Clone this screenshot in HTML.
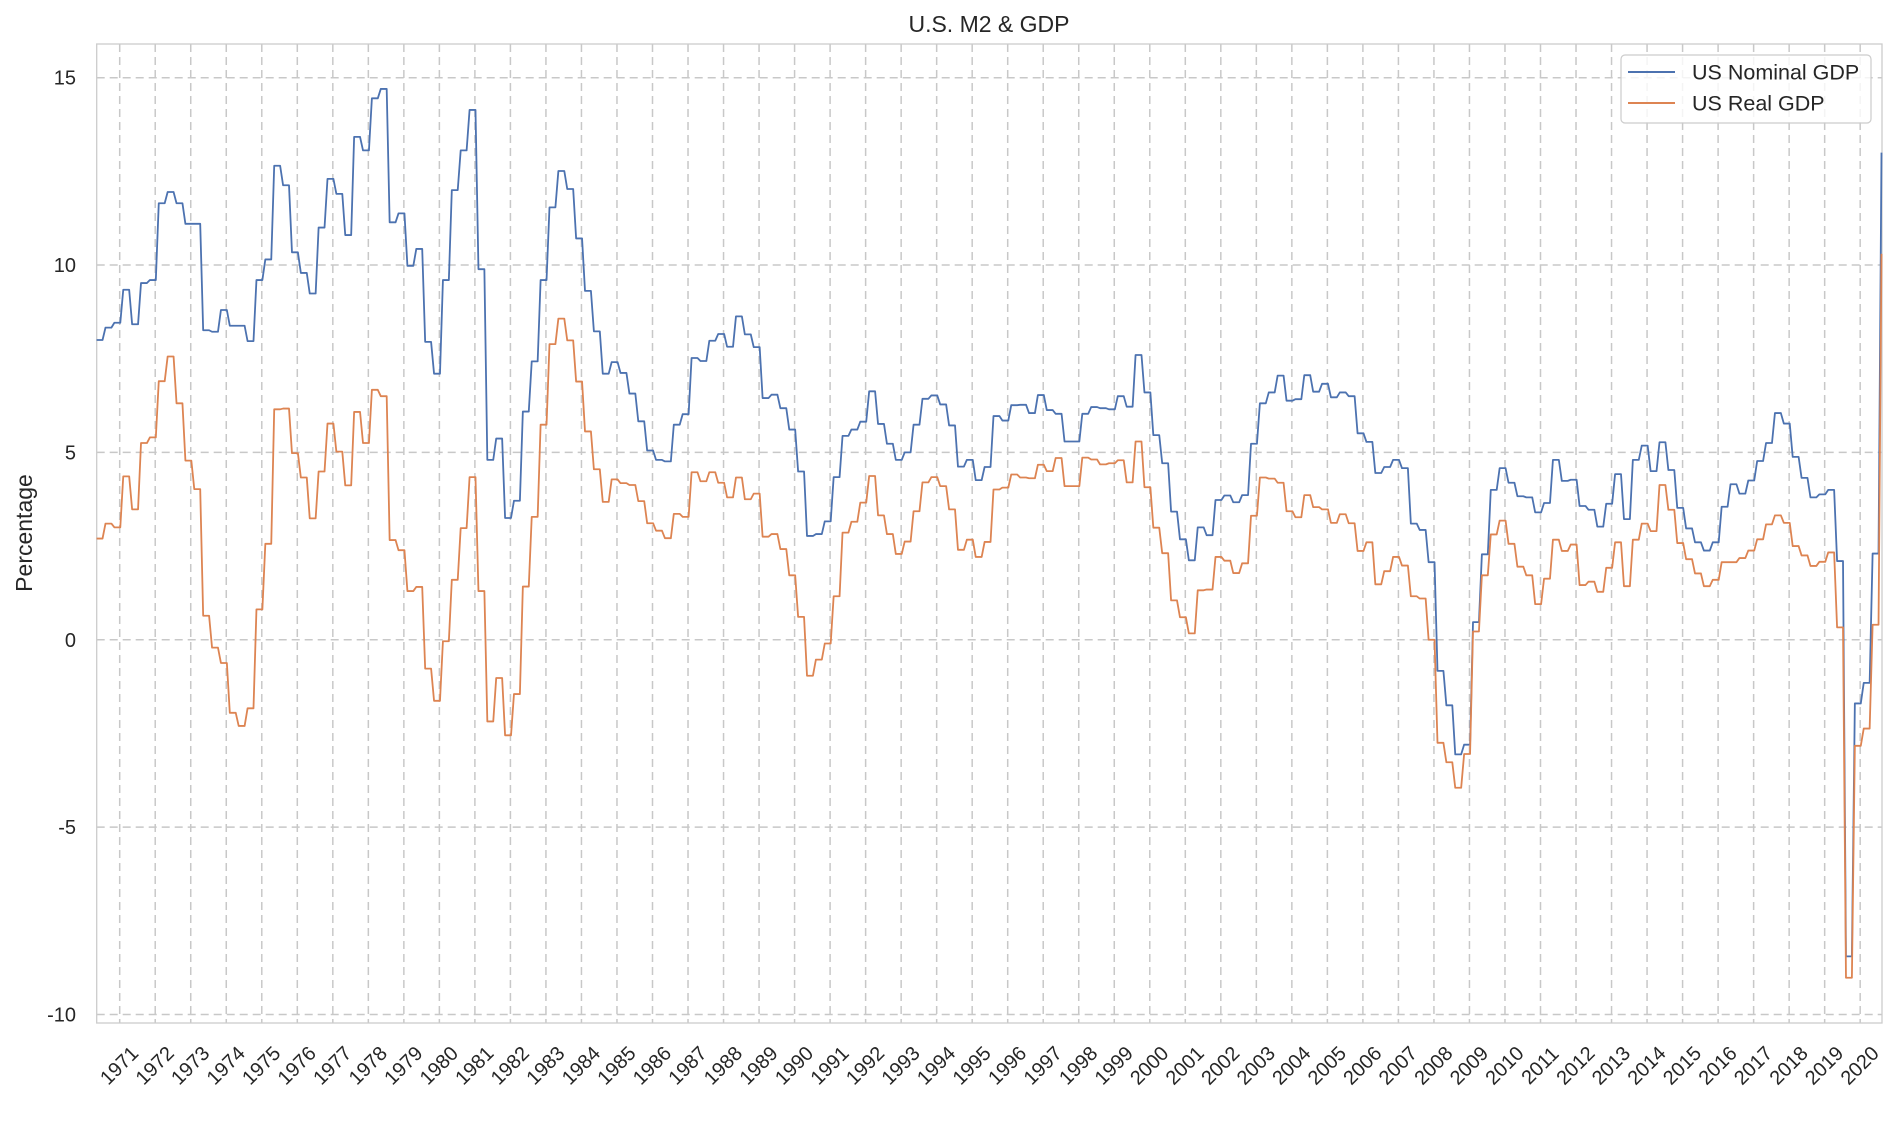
<!DOCTYPE html>
<html><head><meta charset="utf-8"><title>U.S. M2 &amp; GDP</title>
<style>html,body{margin:0;padding:0;background:#fff}svg{display:block;font-family:"Liberation Sans",Arial,sans-serif}</style>
</head><body>
<svg id="chart" width="1899" height="1136" viewBox="0 0 1899 1136" xmlns="http://www.w3.org/2000/svg">
<text x="989" y="32" text-anchor="middle" font-size="23" fill="#262626">U.S. M2 &amp; GDP</text>
<g id="grid"></g>
<rect x="96.7" y="44" width="1785.3" height="979" fill="none" stroke="#cccccc" stroke-width="1.3"/>
<g id="series"></g>
<g id="yticks"></g>
<g id="xticks"></g>
<text transform="translate(32,533) rotate(-90)" text-anchor="middle" font-size="23" fill="#262626">Percentage</text>
<g>
<rect x="1621" y="55" width="250" height="68" rx="4" fill="#ffffff" fill-opacity="0.8" stroke="#cccccc" stroke-width="1.2"/>
<g>
<line x1="1628" y1="72" x2="1675" y2="72" stroke="#4c72b0" stroke-width="2"/>
<text x="1692" y="79.5" font-size="21.5" fill="#262626">US Nominal GDP</text></g>
<g>
<line x1="1628" y1="103" x2="1675" y2="103" stroke="#dd8452" stroke-width="2"/>
<text x="1692" y="110.5" font-size="21.5" fill="#262626">US Real GDP</text></g>
</g>
</svg>
<script>
const startYear = 1970.35;
const quarterStep = 0.25;
const yTicks = [-10, -5, 0, 5, 10, 15];
const yearTicks = [];
for (let y = 1971; y <= 2020; y++) yearTicks.push(y);
const nominalGDP = [
8.0,8.33,8.46,9.34,8.42,9.52,9.6,11.65,11.95,11.65,11.1,11.1,8.26,8.22,8.8,8.38,8.38,7.97,9.6,10.15,12.65,12.13,10.34,9.79,9.24,11.0,12.3,11.9,10.8,13.42,13.06,14.45,14.7,11.14,11.38,9.98,10.43,7.95,7.1,9.6,12.0,13.06,14.14,
9.89,4.8,5.37,3.25,3.71,6.09,7.43,9.6,11.54,12.51,12.03,10.71,9.31,8.23,7.1,7.41,7.12,6.57,5.83,5.05,4.8,4.76,5.74,6.02,7.52,7.44,7.98,8.16,7.82,8.63,8.15,7.81,6.45,6.54,6.18,5.61,4.49,2.77,2.82,3.16,4.34,5.44,
5.61,5.82,6.63,5.76,5.23,4.8,5.0,5.74,6.43,6.52,6.28,5.72,4.62,4.8,4.26,4.61,5.97,5.85,6.26,6.27,6.05,6.53,6.13,6.03,5.29,5.29,6.03,6.21,6.18,6.15,6.5,6.22,7.6,6.6,5.46,4.71,3.42,2.68,2.12,3.0,2.79,
3.73,3.85,3.67,3.86,5.23,6.31,6.6,7.05,6.38,6.42,7.06,6.62,6.83,6.47,6.6,6.5,5.51,5.28,4.45,4.61,4.8,4.58,3.1,2.93,2.07,-0.83,-1.75,-3.06,-2.8,0.47,2.28,4.0,4.58,4.19,3.83,3.8,3.4,3.65,4.8,4.24,4.27,3.57,
3.47,3.02,3.63,4.42,3.22,4.8,5.18,4.5,5.27,4.53,3.52,2.97,2.6,2.38,2.6,3.55,4.15,3.9,4.25,4.77,5.25,6.05,5.77,4.88,4.32,3.8,3.88,4.0,2.1,-8.45,-1.7,-1.15,2.3,13.0
];
const realGDP = [
2.7,3.1,3.0,4.36,3.48,5.25,5.4,6.9,7.56,6.31,4.78,4.02,0.64,-0.21,-0.62,-1.95,-2.3,-1.83,0.81,2.56,6.15,6.17,4.98,4.33,3.24,4.49,5.77,5.02,4.12,6.08,5.25,6.67,6.5,2.66,2.39,1.3,1.41,-0.77,-1.63,-0.04,1.6,2.98,4.34,
1.3,-2.18,-1.02,-2.55,-1.45,1.42,3.28,5.74,7.89,8.57,7.99,6.89,5.56,4.55,3.68,4.28,4.18,4.13,3.7,3.11,2.91,2.71,3.36,3.28,4.47,4.23,4.47,4.19,3.8,4.33,3.75,3.9,2.75,2.82,2.42,1.72,0.61,-0.96,-0.53,-0.1,1.16,2.86,
3.15,3.66,4.37,3.32,2.82,2.29,2.62,3.43,4.2,4.34,4.1,3.48,2.4,2.67,2.21,2.61,4.01,4.06,4.41,4.33,4.31,4.67,4.5,4.85,4.1,4.1,4.86,4.81,4.68,4.71,4.79,4.2,5.29,4.07,2.99,2.31,1.05,0.6,0.17,1.32,1.34,
2.21,2.11,1.78,2.04,3.31,4.33,4.3,4.19,3.43,3.27,3.86,3.54,3.48,3.12,3.35,3.11,2.37,2.6,1.48,1.83,2.21,1.98,1.16,1.1,0.0,-2.75,-3.27,-3.95,-3.05,0.22,1.72,2.81,3.18,2.56,1.95,1.72,0.95,1.63,2.67,2.37,2.54,1.46,
1.55,1.28,1.92,2.6,1.43,2.67,3.1,2.9,4.13,3.47,2.58,2.15,1.77,1.43,1.6,2.07,2.07,2.18,2.38,2.68,3.08,3.32,3.12,2.5,2.25,1.97,2.08,2.33,0.33,-9.02,-2.83,-2.37,0.4,10.3
];
const NS = 'http://www.w3.org/2000/svg';
const PL = 96.7, PR = 1882, PT = 44, PB = 1023;
function xScale(t){ return 119.7 + (t - 1971) * 35.52; }
function yScale(v){ return 77.7 + (15 - v) * 37.47; }
function mk(tag, attrs, parent){ const e = document.createElementNS(NS, tag); for (const k in attrs) e.setAttribute(k, attrs[k]); parent.appendChild(e); return e; }
const grid = document.getElementById('grid');
yTicks.forEach(v => {
  const l = mk('line', {x1:PL, x2:PR, y1:yScale(v), y2:yScale(v), stroke:'#c8c8c8', 'stroke-width':1.5, 'stroke-dasharray':'8,5'}, grid);
  
  
  const t = mk('text', {x:76, y:yScale(v)+7, 'text-anchor':'end', 'font-size':20, fill:'#262626'}, document.getElementById('yticks'));
  t.textContent = String(v);
  
  
});
yearTicks.forEach(y => {
  const x = xScale(y);
  const l = mk('line', {x1:x, x2:x, y1:PT, y2:PB, stroke:'#c8c8c8', 'stroke-width':1.5, 'stroke-dasharray':'8,5'}, grid);
  
  
  const t = mk('text', {x:0, y:0, 'text-anchor':'middle', 'dominant-baseline':'central', 'font-size':20, fill:'#262626', transform:'translate('+x+',1066) rotate(-45)'}, document.getElementById('xticks'));
  t.textContent = String(y);
  
  
});
function pathFor(vals){
  let d = '';
  vals.forEach((v, i) => {
    const t = startYear + i * quarterStep;
    const y = yScale(v).toFixed(2);
    d += (i === 0 ? 'M' : 'L') + xScale(t).toFixed(2) + ',' + y;
    if (i < vals.length - 1) d += 'L' + xScale(t + 1/6).toFixed(2) + ',' + y;
  });
  return d;
}
const sg = document.getElementById('series');
const p1 = mk('path', {d:pathFor(nominalGDP), fill:'none', stroke:'#4c72b0', 'stroke-width':1.8, 'stroke-linejoin':'round'}, sg);


const p2 = mk('path', {d:pathFor(realGDP), fill:'none', stroke:'#dd8452', 'stroke-width':1.8, 'stroke-linejoin':'round'}, sg);


</script>
</body></html>
